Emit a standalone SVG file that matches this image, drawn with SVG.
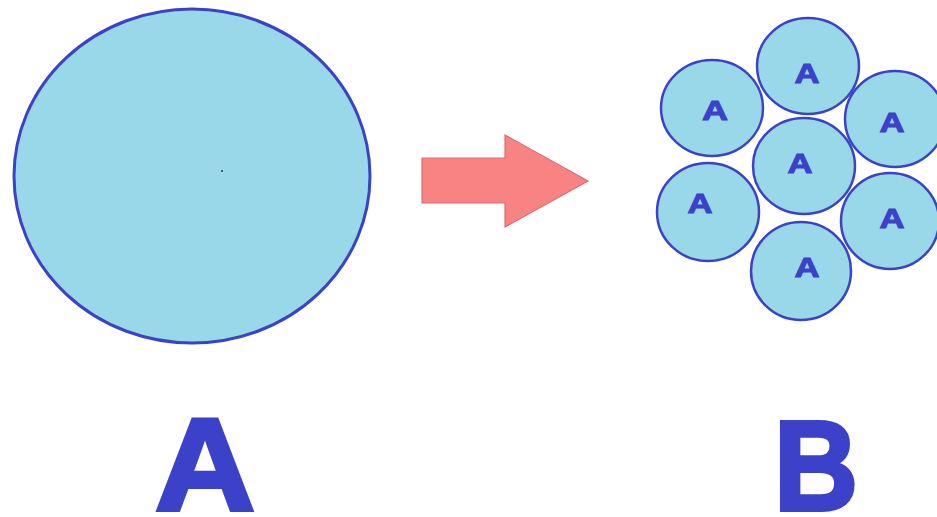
<svg xmlns="http://www.w3.org/2000/svg" width="937" height="517" viewBox="0 0 937 517">
<style>
.c{fill:#98d8e9;stroke:#3b42c9;stroke-width:3}
.s{fill:#98d8e9;stroke:#3b42c9;stroke-width:2.5}
.sl{font-family:"Liberation Sans",Arial,sans-serif;font-weight:bold;font-size:27px;fill:#3b42c9;stroke:#3b42c9;stroke-width:1;text-anchor:middle}
.big{font-family:"Liberation Sans",Arial,sans-serif;font-weight:bold;fill:#3b42c9;text-anchor:middle;stroke:#3b42c9;stroke-width:4;stroke-linejoin:miter}
</style>
<rect width="937" height="517" fill="#ffffff"/>
<g id="bigA">
<ellipse class="c" cx="192" cy="176" rx="178" ry="167"/>
<circle cx="222" cy="171" r="1" fill="#2a3a60"/>
</g>
<g id="connectors">
<path d="M422,158 H505 V135 L588,181 L505,227 V203 H422 Z" fill="#f88383" stroke="#e06a74" stroke-width="1.2"/>
</g>
<g id="cluster">
<g id="n1"><ellipse class="s" cx="808" cy="66" rx="51" ry="48"/><text class="sl" x="807" y="83" textLength="25" lengthAdjust="spacingAndGlyphs">A</text></g>
<g id="n2"><ellipse class="s" cx="712" cy="108" rx="51" ry="48"/><text class="sl" x="715" y="120" textLength="26" lengthAdjust="spacingAndGlyphs">A</text></g>
<g id="n3"><ellipse class="s" cx="895" cy="119" rx="50" ry="48"/><text class="sl" x="892" y="132" textLength="25" lengthAdjust="spacingAndGlyphs">A</text></g>
<g id="n4"><ellipse class="s" cx="804" cy="166" rx="51" ry="48"/><text class="sl" x="800" y="173" textLength="25" lengthAdjust="spacingAndGlyphs">A</text></g>
<g id="n5"><ellipse class="s" cx="708" cy="212" rx="51" ry="49"/><text class="sl" x="700" y="213" textLength="25" lengthAdjust="spacingAndGlyphs">A</text></g>
<g id="n6"><ellipse class="s" cx="890" cy="221" rx="49" ry="48"/><text class="sl" x="892" y="228" textLength="25" lengthAdjust="spacingAndGlyphs">A</text></g>
<g id="n7"><ellipse class="s" cx="801" cy="271" rx="50" ry="49"/><text class="sl" x="807" y="277" textLength="25" lengthAdjust="spacingAndGlyphs">A</text></g>
</g>
<g id="labelA"><text class="big" x="205" y="510" font-size="132" textLength="100" lengthAdjust="spacingAndGlyphs">A</text></g>
<g id="labelB"><text class="big" x="816" y="510" font-size="128" textLength="84" lengthAdjust="spacingAndGlyphs">B</text></g>
</svg>
